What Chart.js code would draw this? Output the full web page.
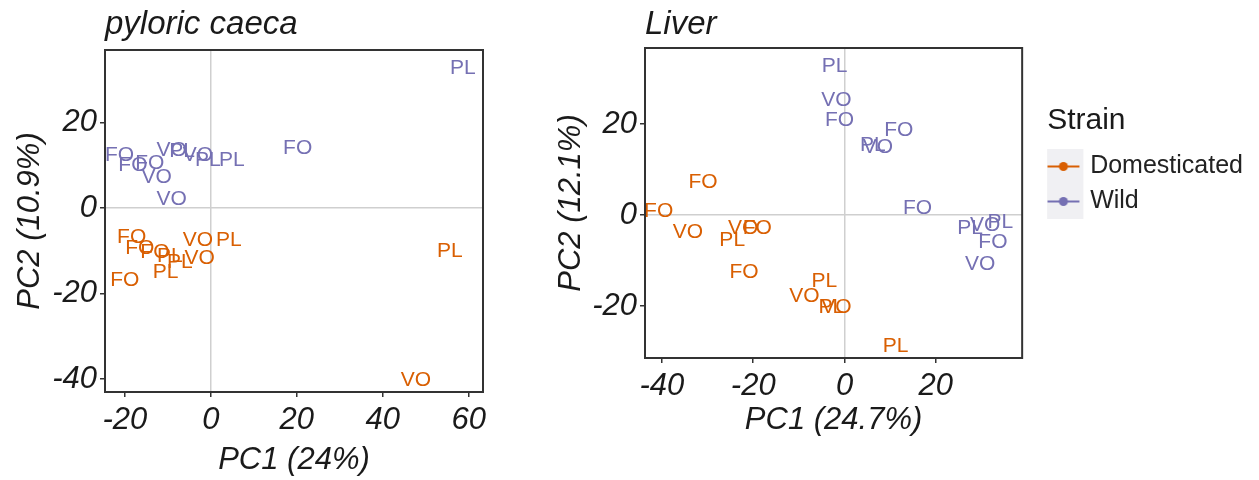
<!DOCTYPE html>
<html>
<head>
<meta charset="utf-8">
<script src="https://cdn.jsdelivr.net/npm/chart.js@4.4.1/dist/chart.umd.min.js"></script>
<style>
  html, body { margin: 0; padding: 0; background: #fff; }
  body { width: 1259px; height: 480px; position: relative; overflow: hidden; }
  canvas { position: absolute; top: 0; }
  #caeca { left: 0; }
  #liver { left: 545px; }
</style>
</head>
<body>
<canvas id="caeca" width="500" height="480"></canvas>
<canvas id="liver" width="714" height="440"></canvas>
<script>
// pyloric caeca scores
const caecaDomPC1 = [-18.4, -16.5, -13.0, -9.5, -7.2, -2.6, -3.0, 4.2, -20.0, -10.5, 55.6, 47.7];
const caecaDomPC2 = [-6.8, -9.3, -10.3, -11.2, -12.6, -11.7, -7.5, -7.5, -16.8, -15.0, -10.0, -40.2];
const caecaDomDiet = ['FO', 'FO', 'FO', 'PL', 'PL', 'VO', 'VO', 'PL', 'FO', 'PL', 'PL', 'VO'];
const caecaWildPC1 = [58.6, 20.2, -21.2, -18.1, -14.2, -12.6, -9.1, -9.1, -6.7, -3.0, -0.7, 4.9];
const caecaWildPC2 = [32.7, 14.0, 12.4, 10.0, 10.5, 7.2, 2.1, 13.6, 13.3, 12.4, 11.2, 11.2];
const caecaWildDiet = ['PL', 'FO', 'FO', 'FO', 'FO', 'VO', 'VO', 'VO', 'PL', 'VO', 'PL', 'PL'];
const caecaXTicks = [-20, 0, 20, 40, 60];
const caecaYTicks = [-40, -20, 0, 20];

// liver scores
const liverDomPC1 = [-31.0, -40.7, -34.3, -24.6, -22.2, -19.1, -22.0, -4.4, -8.8, -2.9, -1.8, 11.2];
const liverDomPC2 = [7.3, 0.9, -3.7, -5.5, -2.9, -2.9, -12.5, -14.5, -17.8, -20.2, -20.2, -28.8];
const liverDomDiet = ['FO', 'FO', 'VO', 'PL', 'VO', 'FO', 'FO', 'PL', 'VO', 'PL', 'VO', 'PL'];
const liverWildPC1 = [-2.2, -1.8, -1.1, 11.9, 6.2, 7.3, 16.0, 27.5, 30.8, 34.1, 32.5, 29.7];
const liverWildPC2 = [32.7, 25.3, 20.9, 18.7, 15.4, 14.9, 1.5, -2.9, -2.2, -1.5, -5.9, -10.8];
const liverWildDiet = ['PL', 'VO', 'FO', 'FO', 'PL', 'VO', 'FO', 'PL', 'VO', 'PL', 'FO', 'VO'];
const liverXTicks = [-40, -20, 0, 20];
const liverYTicks = [-20, 0, 20];

const strains = ['Domesticated', 'Wild'];
const strainColors = ['#d95f02', '#7570b3'];

const FONT = '"Liberation Sans", Arial, sans-serif';
const INK = '#1a1a1a';

function toPoints(xs, ys) {
  return xs.map((x, i) => ({ x: x, y: ys[i] }));
}

// legend key like ggplot: grey square with a line and a dot
function keyImage(color) {
  const c = document.createElement('canvas');
  c.width = 48; c.height = 35;
  const g = c.getContext('2d');
  g.fillStyle = '#f0f0f3';
  g.fillRect(0, 0, 40, 35);
  g.strokeStyle = color;
  g.lineWidth = 2;
  g.beginPath(); g.moveTo(4, 17.5); g.lineTo(36, 17.5); g.stroke();
  g.fillStyle = color;
  g.beginPath(); g.arc(20, 17.5, 4.5, 0, Math.PI * 2); g.fill();
  return c;
}

const textLabels = {
  id: 'textLabels',
  afterDatasetsDraw(chart) {
    const ctx = chart.ctx;
    ctx.save();
    ctx.font = '21px ' + FONT;
    ctx.textAlign = 'center';
    ctx.textBaseline = 'middle';
    chart.data.datasets.forEach((ds, d) => {
      const meta = chart.getDatasetMeta(d);
      ctx.fillStyle = ds.borderColor;
      meta.data.forEach((el, i) => {
        ctx.fillText(ds.tags[i], el.x, el.y);
      });
    });
    ctx.restore();
  }
};

const panelBox = {
  id: 'panelBox',
  afterDraw(chart) {
    const a = chart.chartArea;
    const ctx = chart.ctx;
    ctx.save();
    ctx.strokeStyle = '#333';
    ctx.lineWidth = 2;
    ctx.strokeRect(a.left, a.top, a.right - a.left, a.bottom - a.top);
    ctx.restore();
  }
};

function axis(min, max, tickVals, titleText, o) {
  return {
    type: 'linear',
    min: min, max: max,
    afterBuildTicks: s => { s.ticks = tickVals.map(v => ({ value: v })); },
    afterFit: o.fit,
    border: { display: false },
    grid: {
      color: c => c.tick && c.tick.value === 0 ? '#cfcfcf' : 'rgba(0,0,0,0)',
      lineWidth: 1.5,
      tickColor: '#333',
      tickLength: 5
    },
    ticks: {
      color: INK, padding: o.tickPad,
      font: { family: FONT, size: 31, style: 'italic' }
    },
    title: {
      display: true, text: titleText, color: INK,
      font: { family: FONT, size: 31, style: 'italic' },
      padding: o.titlePad
    }
  };
}

function makePanel(id, title, xTitle, yTitle, domX, domY, domTags, wildX, wildY, wildTags, opts) {
  const datasets = [
    { label: strains[0], data: toPoints(domX, domY), tags: domTags, borderColor: strainColors[0], backgroundColor: strainColors[0], pointRadius: 0, pointStyle: keyImage(strainColors[0]) },
    { label: strains[1], data: toPoints(wildX, wildY), tags: wildTags, borderColor: strainColors[1], backgroundColor: strainColors[1], pointRadius: 0, pointStyle: keyImage(strainColors[1]) }
  ];
  const scales = {
    x: axis(opts.xMin, opts.xMax, opts.xTicks, xTitle, {
      fit: s => { s.height = opts.xAxisH; }, tickPad: opts.xTickPad, titlePad: { top: 0, bottom: 1 }
    }),
    y: axis(opts.yMin, opts.yMax, opts.yTicks, yTitle, {
      fit: s => { s.width = opts.yAxisW; }, tickPad: 3, titlePad: { top: opts.yTitlePad, bottom: 0 }
    })
  };
  if (opts.legend) {
    // empty right-hand axis: keeps a gap between the panel and the legend
    scales.gap = {
      type: 'linear', position: 'right', display: true,
      grid: { display: false }, border: { display: false },
      ticks: { display: false },
      afterFit: s => { s.width = 25; }
    };
  }
  return new Chart(document.getElementById(id), {
    type: 'scatter',
    data: { datasets: datasets },
    options: {
      responsive: false,
      animation: false,
      events: [],
      layout: { padding: { left: 0, right: opts.padRight, top: 0, bottom: 0 } },
      plugins: {
        tooltip: { enabled: false },
        title: {
          display: true,
          text: title,
          align: 'start',
          fullSize: false,
          color: INK,
          font: { family: FONT, size: 33, style: 'italic', weight: 'normal' },
          padding: { top: 5, bottom: opts.titleGap }
        },
        legend: opts.legend ? {
          display: true,
          position: 'right',
          align: 'start',
          maxWidth: 212,
          title: {
            display: true,
            text: 'Strain',
            position: 'start',
            color: INK,
            font: { family: FONT, size: 30 },
            padding: { top: 106, bottom: 2 }
          },
          labels: {
            usePointStyle: true,
            pointStyleWidth: 20.5,
            color: '#222',
            font: { family: FONT, size: 25 },
            padding: 10
          }
        } : { display: false }
      },
      scales: scales
    },
    plugins: [textLabels, panelBox]
  });
}

makePanel('caeca', 'pyloric caeca', 'PC1 (24%)', 'PC2 (10.9%)',
  caecaDomPC1, caecaDomPC2, caecaDomDiet, caecaWildPC1, caecaWildPC2, caecaWildDiet,
  { xMin: -24.6, xMax: 63.3, yMin: -43, yMax: 36.9, xTicks: caecaXTicks, yTicks: caecaYTicks,
    padRight: 17, xAxisH: 88, yAxisW: 105, titleGap: 5.4, xTickPad: 5, yTitlePad: 12, legend: false });

makePanel('liver', 'Liver', 'PC1 (24.7%)', 'PC2 (12.1%)',
  liverDomPC1, liverDomPC2, liverDomDiet, liverWildPC1, liverWildPC2, liverWildDiet,
  { xMin: -43.7, xMax: 38.9, yMin: -31.4, yMax: 36.7, xTicks: liverXTicks, yTicks: liverYTicks,
    padRight: 6, xAxisH: 82, yAxisW: 100, titleGap: 3.4, xTickPad: 5, yTitlePad: 8, legend: true });
</script>
</body>
</html>
